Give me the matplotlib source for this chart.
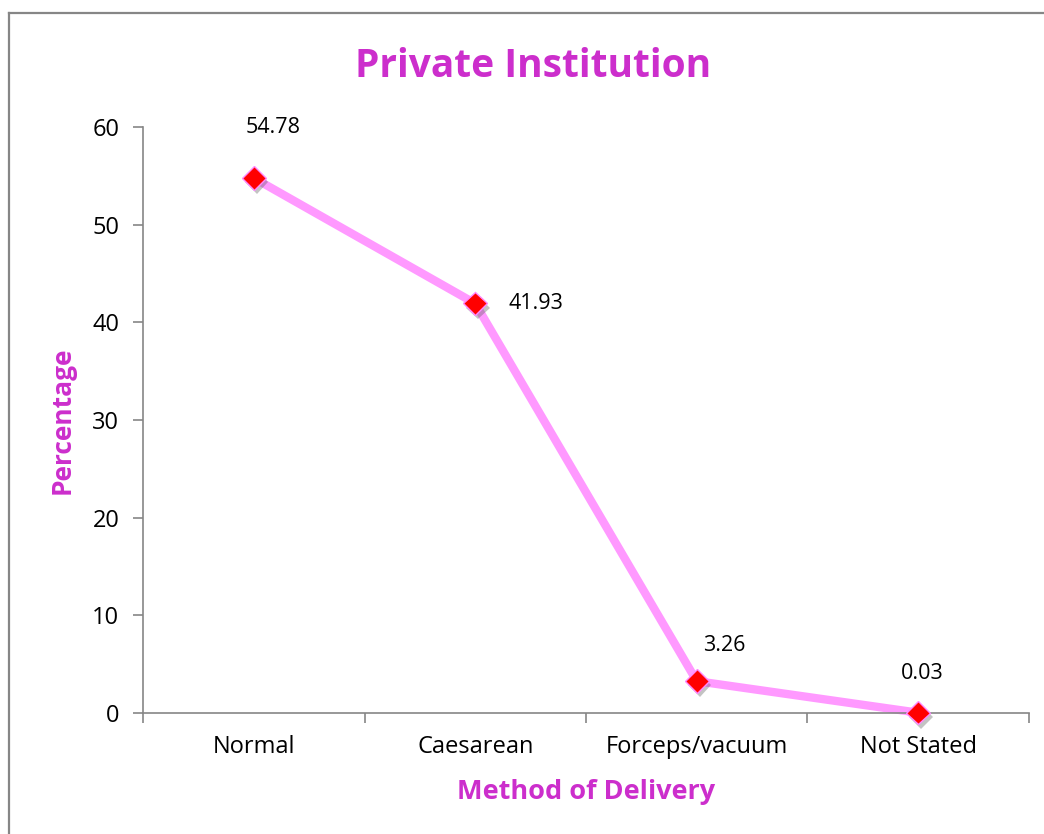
import matplotlib.pyplot as plt
import matplotlib.patheffects as pe
from matplotlib.lines import Line2D

plt.rcParams['font.family'] = ['Open Sans', 'DejaVu Sans']

# data
methods = ['Normal', 'Caesarean', 'Forceps/vacuum', 'Not Stated']
percent = [54.78, 41.93, 3.26, 0.03]
label_text = ['54.78', '41.93', '3.26', '0.03']

magenta = '#CC2ECC'
grey = '#868686'

fig = plt.figure(figsize=(10.44, 8.34), dpi=100)
ax = fig.add_axes([0.137, 0.1451, 0.8486, 0.7026])

x = list(range(len(methods)))
ax.plot(x, percent, color='#FF99FF', lw=6, solid_capstyle='round', zorder=2, clip_on=False)
ax.plot(x, percent, ls='none', marker='D', markersize=12, color='#FF0000',
        markeredgecolor='#FF88FF', markeredgewidth=1, zorder=3, clip_on=False,
        path_effects=[pe.SimplePatchShadow(offset=(2, -3), alpha=0.35, shadow_rgbFace='#555555'), pe.Normal()])

# data labels (offsets in points)
offsets = [(14, 36), (44, 0), (20, 26), (3, 28)]
for xi, yi, t, (dx, dy) in zip(x, percent, label_text, offsets):
    ax.annotate(t, (xi, yi), xytext=(dx, dy), textcoords='offset points',
                ha='center', va='center', fontsize=15.5)

ax.set_xlim(-0.5, 3.5)
ax.set_ylim(0, 60)
ax.set_yticks(range(0, 61, 10))
ax.set_xticks([i - 0.5 for i in range(5)])
ax.set_xticklabels([])
for xi, m in zip(x, methods):
    ax.text(xi, -3.5, m, ha='center', va='center', fontsize=17)

for s in ['top', 'right']:
    ax.spines[s].set_visible(False)
for s in ['left', 'bottom']:
    ax.spines[s].set_color(grey)
    ax.spines[s].set_linewidth(1.2)
ax.tick_params(axis='both', direction='out', length=7, width=1.2, color=grey,
               labelsize=17, pad=10)

fig.text(0.511, 0.920, 'Private Institution', ha='center', va='center', fontsize=28,
         fontweight='bold', color=magenta)
ax.set_ylabel('Percentage', fontsize=19, fontweight='bold', color=magenta, labelpad=12)
ax.text(1.5, -8.1, 'Method of Delivery', ha='center', va='center', fontsize=19.5,
        fontweight='bold', color=magenta)

# outer frame lines (left and top)
fig.add_artist(Line2D([0.0085, 0.0085], [0, 0.985], transform=fig.transFigure, color=grey, lw=1.6))
fig.add_artist(Line2D([0.0085, 1.0], [0.985, 0.985], transform=fig.transFigure, color=grey, lw=1.6))

fig.savefig('out.png', dpi=100, facecolor='white')
